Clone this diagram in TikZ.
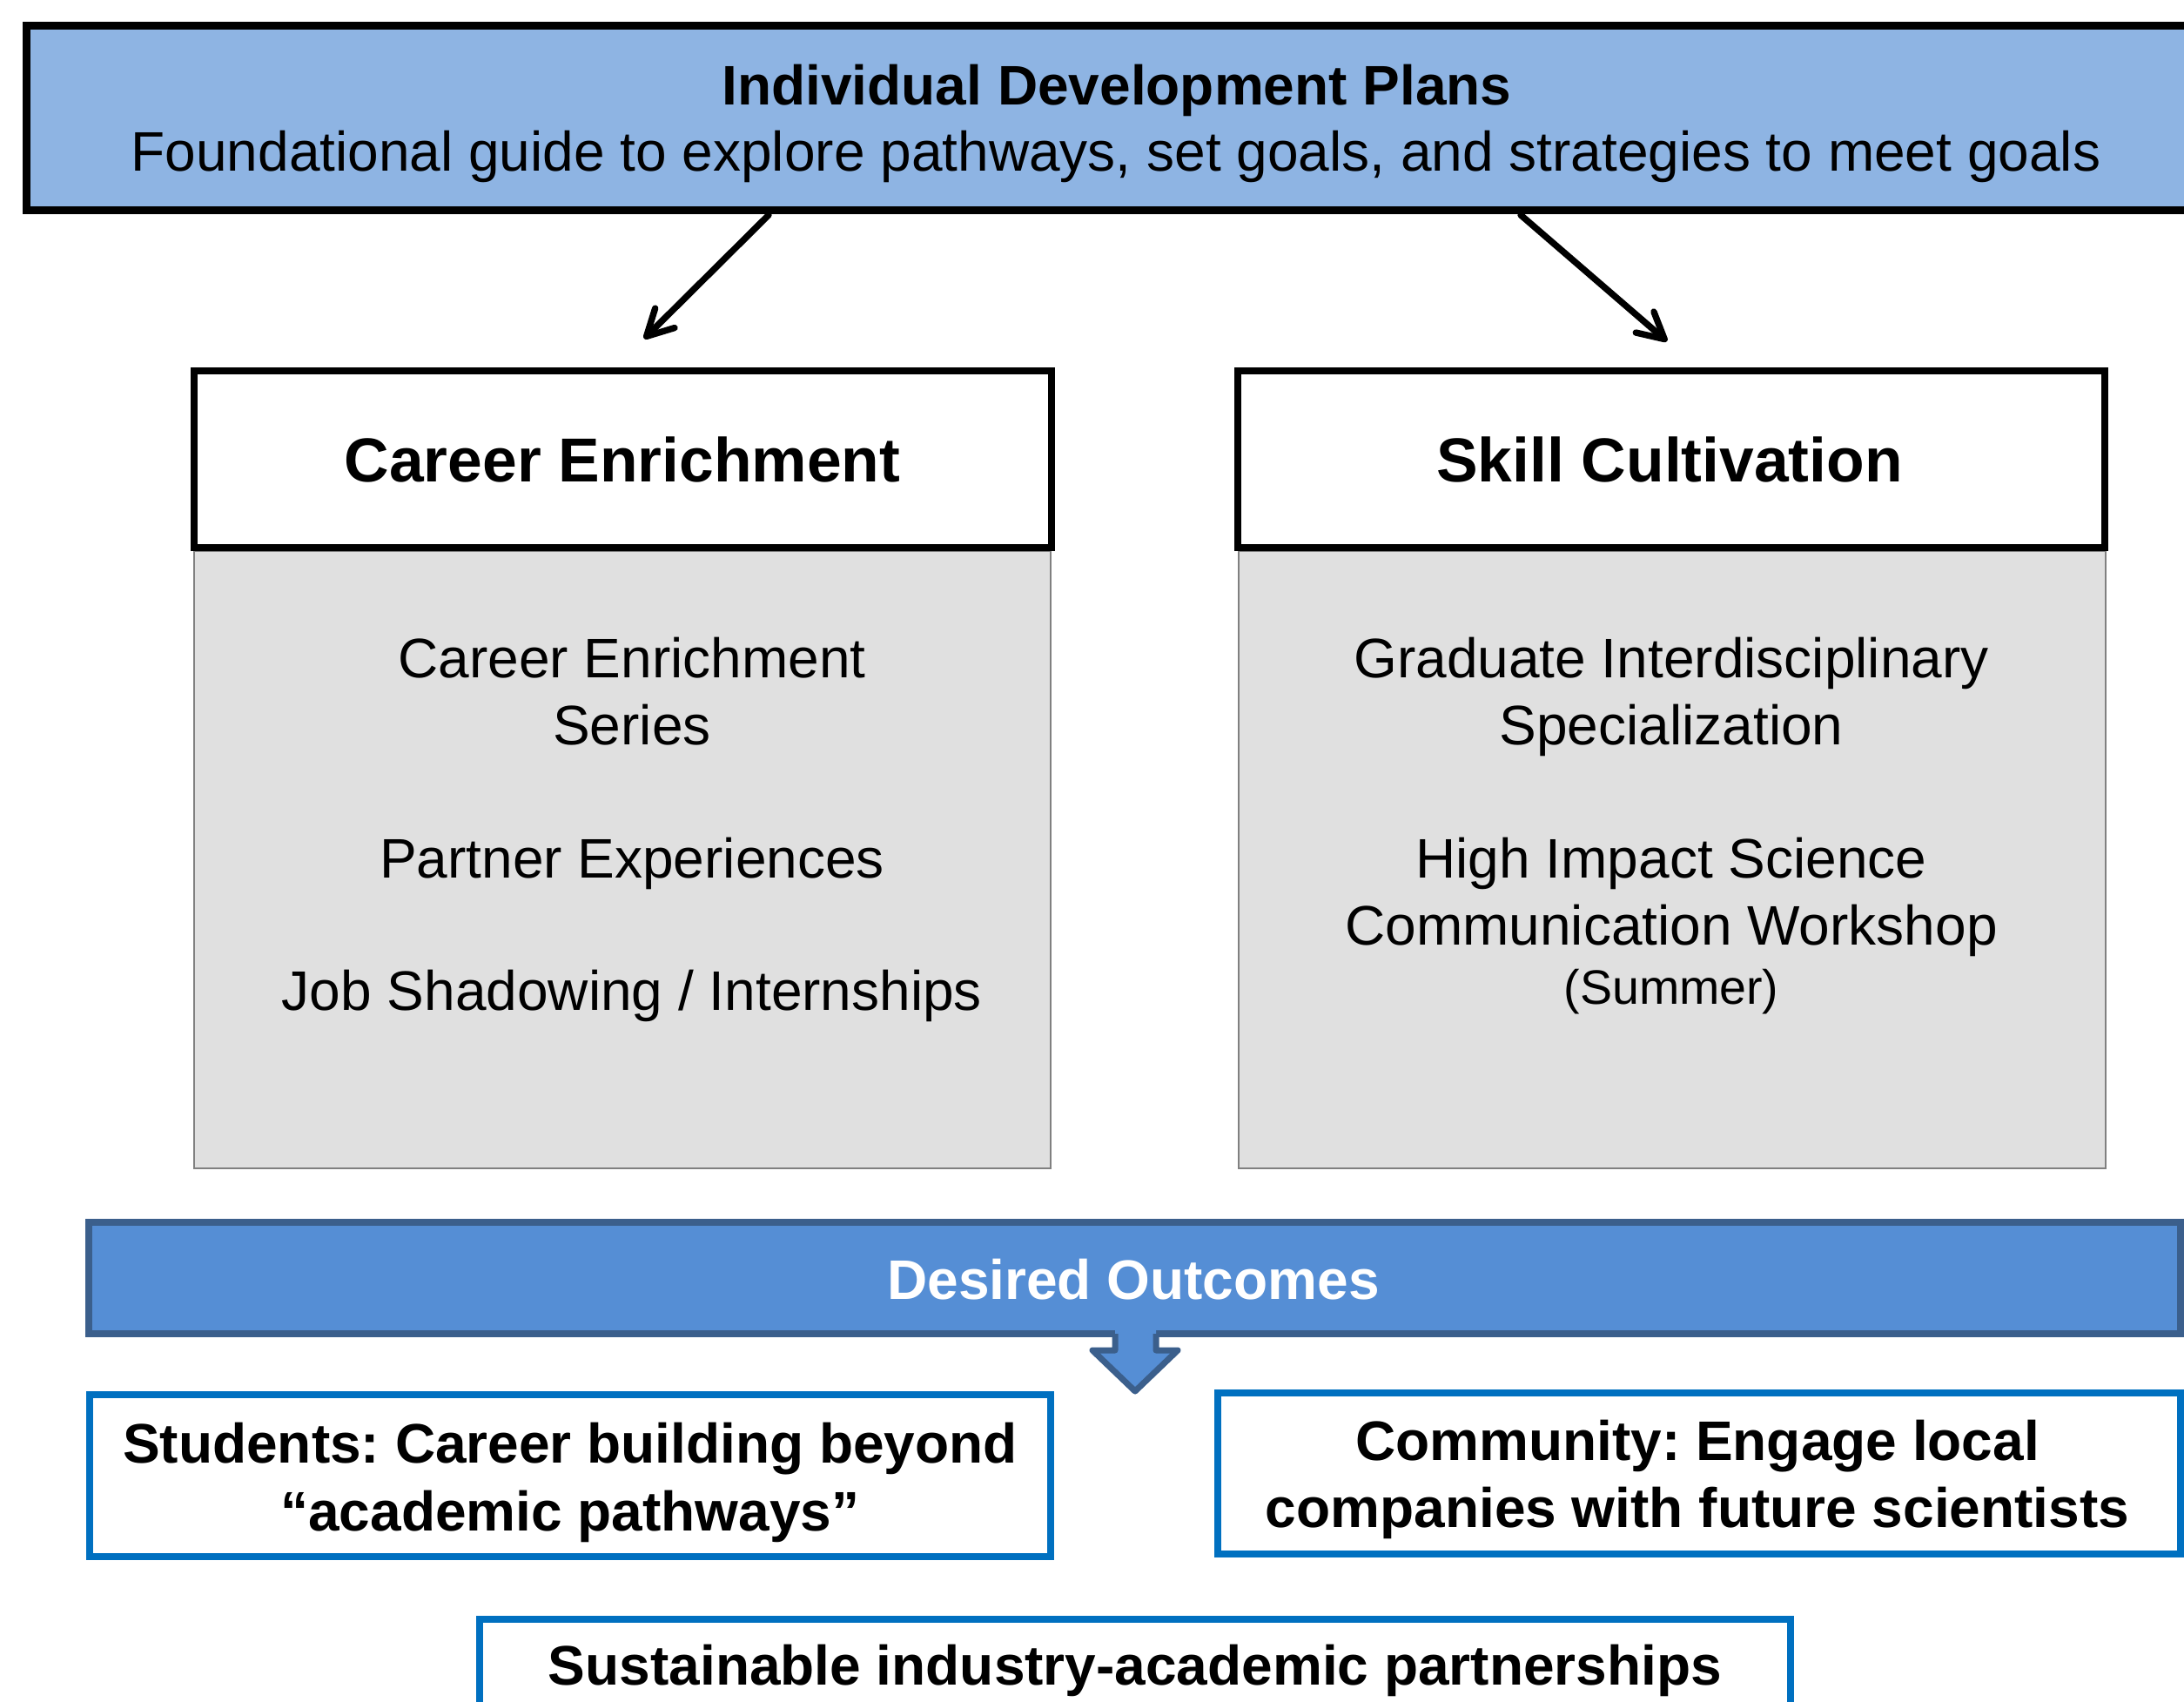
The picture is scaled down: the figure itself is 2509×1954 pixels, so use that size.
\documentclass[tikz,border=0pt]{standalone}
\usepackage{xcolor}
\usepackage{fontspec}
\setmainfont{Liberation Sans}
\usetikzlibrary{arrows.meta}
\frenchspacing

\definecolor{idpblue}{HTML}{8EB4E3}
\definecolor{panelgray}{HTML}{E0E0E0}
\definecolor{panelline}{HTML}{808080}
\definecolor{outblue}{HTML}{558ED5}
\definecolor{outdark}{HTML}{3B5F8C}
\definecolor{goalblue}{HTML}{0070C0}

\tikzset{
  idpbox/.style={draw=black, line width=2.56pt, fill=idpblue, inner sep=0pt},
  headbox/.style={draw=black, line width=2.28pt, fill=white, inner sep=0pt},
  panel/.style={draw=panelline, line width=0.5pt, fill=panelgray, inner sep=0pt},
  outbar/.style={draw=outdark, line width=2.28pt, fill=outblue, inner sep=0pt},
  goalbox/.style={draw=goalblue, line width=2.28pt, fill=white, inner sep=0pt},
  lbl/.style={anchor=base, inner sep=0pt, font=\fontsize{18.2pt}{21.9pt}\selectfont},
  lblb/.style={lbl, font=\fontsize{18.2pt}{21.9pt}\selectfont\bfseries},
  headlbl/.style={lbl, font=\fontsize{20.3pt}{24pt}\selectfont\bfseries},
  smalllbl/.style={lbl, font=\fontsize{15.8pt}{19pt}\selectfont},
  arr/.style={line width=2.1pt, line cap=round,
    -{Straight Barb[length=8.5pt, width=9pt, line join=round, line cap=round]}},
}

\begin{document}
\begin{tikzpicture}[x=0.01cm, y=-0.01cm]
    \useasboundingbox (0,0) rectangle (2509,1954);
    \clip (0,0) rectangle (2509,1954);

    % top banner
    \node[idpbox, minimum width=25.69cm, minimum height=2.12cm] (idp) at (1316,135.5) {};
    \node[lblb] (idpTitle) at (1283,120) {Individual Development Plans};
    \node[lbl] (idpSub) at (1282,196) {Foundational guide to explore pathways, set goals, and strategies to meet goals};

    % arrows down to the two tracks
    \coordinate (idpL) at (883,247);
    \coordinate (ceTip) at (740,389);
    \coordinate (idpR) at (1747,247);
    \coordinate (scTip) at (1915,392);
    \draw[arr] (idpL) -- (ceTip);
    \draw[arr] (idpR) -- (scTip);

    % grey panels
    \node[panel, minimum width=9.84cm, minimum height=7.09cm] (cePanel) at (715,987.5) {};
    \node[panel, minimum width=9.96cm, minimum height=7.09cm] (scPanel) at (1921,987.5) {};

    % headers
    \node[headbox, minimum width=9.85cm, minimum height=2.03cm] (ceHead) at (715.5,527.5) {};
    \node[headbox, minimum width=9.96cm, minimum height=2.03cm] (scHead) at (1920,527.5) {};
    \node[headlbl] (ceTitle) at (715,553) {Career Enrichment};
    \node[headlbl] (scTitle) at (1918,553) {Skill Cultivation};

    % panel items
    \foreach \txt/\yy [count=\i] in {Career Enrichment/778, Series/855,
        Partner Experiences/1008, {Job Shadowing / Internships}/1160}
        \node[lbl] (ceItem\i) at (726,\yy) {\txt};
    \foreach \txt/\yy [count=\i] in {Graduate Interdisciplinary/778, Specialization/855,
        High Impact Science/1008, Communication Workshop/1085}
        \node[lbl] (scItem\i) at (1920,\yy) {\txt};
    \node[smalllbl] (scSummer) at (1920,1153) {(Summer)};

    % outcomes bar
    \node[outbar, minimum width=24.01cm, minimum height=1.28cm] (outcomes) at (1303.5,1468) {};
    \node[lblb, text=white] (outTitle) at (1302,1492) {Desired Outcomes};

    % block arrow
    \fill[outblue] (1281,1524) -- (1281,1551) -- (1255,1551) -- (1304,1598)
        -- (1353,1551) -- (1328,1551) -- (1328,1524) -- cycle;
    \draw[outdark, line width=2pt, line join=round] (1281,1532) -- (1281,1551) -- (1255,1551)
        -- (1304,1598) -- (1353,1551) -- (1328,1551) -- (1328,1532);

    % outcome boxes
    \node[goalbox, minimum width=11.04cm, minimum height=1.86cm] (students) at (655,1695) {};
    \node[goalbox, minimum width=11.06cm, minimum height=1.85cm] (community) at (1952,1692.5) {};
    \node[goalbox, minimum width=15.06cm, minimum height=2.40cm] (partners) at (1304,1980) {};

    \node[lblb] (stuA) at (655,1680) {Students: Career building beyond};
    \node[lblb] (stuB) at (655,1758) {“academic pathways”};
    \node[lblb] (comA) at (1950,1677) {Community: Engage local};
    \node[lblb] (comB) at (1950,1754) {companies with future scientists};
    \node[lblb] (parA) at (1304,1935) {Sustainable industry-academic partnerships};

\end{tikzpicture}
\end{document}
